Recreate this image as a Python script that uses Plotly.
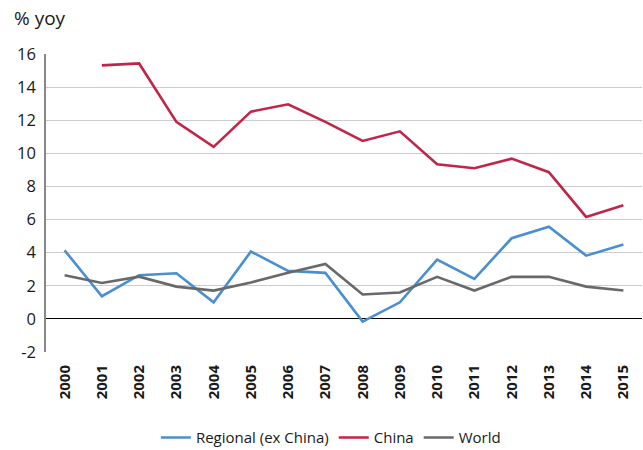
import plotly.graph_objects as go

years = [str(y) for y in range(2000, 2016)]
regional = [4.14, 1.37, 2.64, 2.76, 1.0, 4.07, 2.9, 2.78, -0.16, 1.0, 3.58, 2.42, 4.87, 5.57, 3.82, 4.5]
china = [None, 15.31, 15.43, 11.9, 10.39, 12.52, 12.96, 11.9, 10.75, 11.33, 9.34, 9.1, 9.68, 8.86, 6.16, 6.86]
world = [2.64, 2.17, 2.55, 1.95, 1.71, 2.2, 2.78, 3.32, 1.47, 1.59, 2.54, 1.71, 2.54, 2.54, 1.95, 1.71]
y_ticks = [-2, 0, 2, 4, 6, 8, 10, 12, 14, 16]
y_tick_labels = [str(v) for v in y_ticks]

FONT = "Open Sans"

fig = go.Figure()
fig.add_trace(go.Scatter(x=years, y=regional, name="Regional (ex China)", mode="lines",
                         line=dict(color="#4a8fcf", width=2.6)))
fig.add_trace(go.Scatter(x=years, y=china, name="China", mode="lines",
                         line=dict(color="#c0254a", width=2.6)))
fig.add_trace(go.Scatter(x=years, y=world, name="World", mode="lines",
                         line=dict(color="#67696b", width=2.6)))

fig.update_layout(
    width=643, height=450,
    margin=dict(l=46, r=1, t=54, b=98, autoexpand=False),
    paper_bgcolor="white", plot_bgcolor="white",
    font=dict(family=FONT, color="#1a1a1a", size=15),
    showlegend=True,
    legend=dict(orientation="h", x=0.478, xanchor="center", y=-0.288, yanchor="middle",
                font=dict(size=15), itemwidth=30, traceorder="normal"),
    xaxis=dict(type="category", range=[-0.5, 15.5], tickangle=-90,
               tickfont=dict(size=15, family=FONT, weight="bold"),
               showgrid=False, showline=False, ticks="", ticklen=0, zeroline=False,
               ticklabelstandoff=9),
    yaxis=dict(range=[-2, 16], tickvals=y_ticks, ticktext=y_tick_labels,
               showgrid=True, gridcolor="#cccccc",
               gridwidth=1.3, zeroline=True, zerolinecolor="#000000", zerolinewidth=1.3,
               showline=True, linecolor="#888888", linewidth=1.5, ticks="",
               tickfont=dict(size=16.5), ticklabelstandoff=5),
    annotations=[dict(text="% yoy", xref="paper", yref="paper",
                      x=(12 - 46) / 596, xanchor="left",
                      y=1 + (54 - 18) / 298, yanchor="middle",
                      showarrow=False, font=dict(size=19))],
)

fig.write_html("out.html", config={"displayModeBar": False},
               post_script="document.body.style.margin='0';document.body.style.overflow='hidden';")
